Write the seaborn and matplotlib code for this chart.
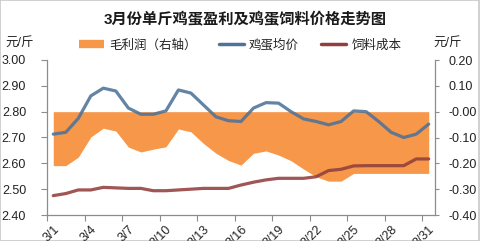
import numpy as np
import pandas as pd
import matplotlib
matplotlib.use("Agg")
import matplotlib.pyplot as plt
from matplotlib.lines import Line2D
import seaborn as sns

# ---------------- data ----------------
days = [f"3/{d}" for d in range(1, 32)]
tick_labels = ["3/1", "3/4", "3/7", "3/10", "3/13", "3/16", "3/19", "3/22", "3/25", "3/28", "3/31"]

egg_price = [2.713, 2.720, 2.774, 2.861, 2.891, 2.880, 2.814, 2.790, 2.790, 2.803,
             2.884, 2.872, 2.826, 2.780, 2.765, 2.762, 2.814, 2.835, 2.833, 2.800,
             2.772, 2.762, 2.749, 2.762, 2.803, 2.800, 2.762, 2.720, 2.700, 2.713,
             2.752]
feed_cost = [2.475, 2.483, 2.497, 2.497, 2.507, 2.505, 2.503, 2.503, 2.494, 2.494,
             2.497, 2.500, 2.503, 2.503, 2.503, 2.516, 2.527, 2.536, 2.542, 2.542,
             2.542, 2.548, 2.572, 2.577, 2.590, 2.591, 2.591, 2.591, 2.591, 2.617,
             2.617]
gross_profit = [-0.209, -0.209, -0.176, -0.098, -0.064, -0.075, -0.137, -0.156, -0.145, -0.136,
                -0.067, -0.078, -0.123, -0.161, -0.189, -0.207, -0.161, -0.152, -0.168, -0.190,
                -0.222, -0.252, -0.269, -0.269, -0.239, -0.239, -0.239, -0.239, -0.239, -0.239,
                -0.239]

title = "3月份单斤鸡蛋盈利及鸡蛋饲料价格走势图"
legend_labels = ["毛利润（右轴）", "鸡蛋均价", "饲料成本"]
unit = "元/斤"

# ---------------- style ----------------
sns.set_theme(style="white")
plt.rcParams["font.family"] = ["Liberation Sans", "Noto Sans CJK SC", "DejaVu Sans"]

orange = "#F6974A"
blue = "#4D7399"
red = "#923E3D"
spine_c = "#8C8C8C"

df = pd.DataFrame({
    "day": days,
    "pos": np.arange(len(days)) + 0.5,
    "egg": egg_price,
    "feed": feed_cost,
    "profit": gross_profit,
})

fig = plt.figure(figsize=(4.8, 2.41), dpi=100)
ax = fig.add_axes([47 / 480, 26 / 241, 388 / 480, 155 / 241])
ax2 = ax.twinx()
ax.set_zorder(ax2.get_zorder() + 1)
ax.patch.set_visible(False)

# area (right axis)
ax2.fill_between(df["pos"], df["profit"], 0, color=orange, lw=0)

# lines (left axis)
sns.lineplot(data=df, x="pos", y="egg", ax=ax, color=blue, lw=2.3, alpha=0.88)
sns.lineplot(data=df, x="pos", y="feed", ax=ax, color=red, lw=2.3, alpha=0.88)

ax.set_xlim(0, 31)
ax.set_ylim(2.40, 3.00)
ax2.set_ylim(-0.40, 0.20)
ax.set_xlabel("")
ax.set_ylabel("")
ax2.set_ylabel("")

lt = np.round(np.arange(2.40, 3.001, 0.10), 2)
rt = np.round(np.arange(-0.40, 0.201, 0.10), 2)
ax.set_yticks(lt)
ax.set_yticklabels([f"{v:.2f}" for v in lt])
ax2.set_yticks(rt)
ax2.set_yticklabels([f"{v:.2f}" for v in rt])

label_idx = [days.index(t) for t in tick_labels]
ax.set_xticks([i + 0.5 for i in label_idx])
ax.set_xticklabels(tick_labels, rotation=45, ha="right", va="top", rotation_mode="anchor")
ax.set_xticks([i for i in label_idx], minor=True)

ax.tick_params(axis="x", which="major", bottom=True, length=0, pad=6, labelsize=9, labelcolor="#222222")
ax.tick_params(axis="x", which="minor", bottom=True, length=4, width=0.8, color=spine_c, direction="out")
ax.tick_params(axis="y", left=True, length=4, width=0.8, color=spine_c, direction="out",
               pad=11, labelsize=9, labelcolor="#222222")
ax2.tick_params(axis="y", right=True, length=3, width=0.8, color=spine_c, direction="out",
                pad=7, labelsize=9, labelcolor="#222222")

for a in (ax, ax2):
    a.spines["top"].set_visible(False)
ax.spines["right"].set_visible(False)
ax2.spines["left"].set_visible(False)
ax2.spines["bottom"].set_visible(False)
for s in ("left", "bottom"):
    ax.spines[s].set_color(spine_c)
    ax.spines[s].set_linewidth(0.9)
ax2.spines["right"].set_color(spine_c)
ax2.spines["right"].set_linewidth(0.9)

# title, units
fig.text(0.51, 1 - 20 / 241, title, ha="center", va="center", fontsize=11, fontweight="bold",
         color="#1a1a1a")
fig.text(5 / 480, 1 - 43 / 241, unit, ha="left", va="center", fontsize=9, color="#222222")
fig.text(433 / 480, 1 - 43 / 241, unit, ha="left", va="center", fontsize=9, color="#222222")

# legend
handles = [
    Line2D([0], [0], color=orange, lw=6, solid_capstyle="butt"),
    Line2D([0], [0], color=blue, lw=2.5),
    Line2D([0], [0], color=red, lw=2.5),
]
fig.legend(handles, legend_labels, loc="center", bbox_to_anchor=(0.5, 1 - 45 / 241), ncol=3,
           frameon=False, fontsize=9, handlelength=2.0, handletextpad=0.4, columnspacing=1.8,
           labelcolor="#222222")

fig.add_artist(plt.Rectangle((0.001, 0.002), 0.996, 0.996, transform=fig.transFigure,
                             fill=False, edgecolor="#C8C8C8", lw=1.2))

fig.savefig("out.png", dpi=100)
